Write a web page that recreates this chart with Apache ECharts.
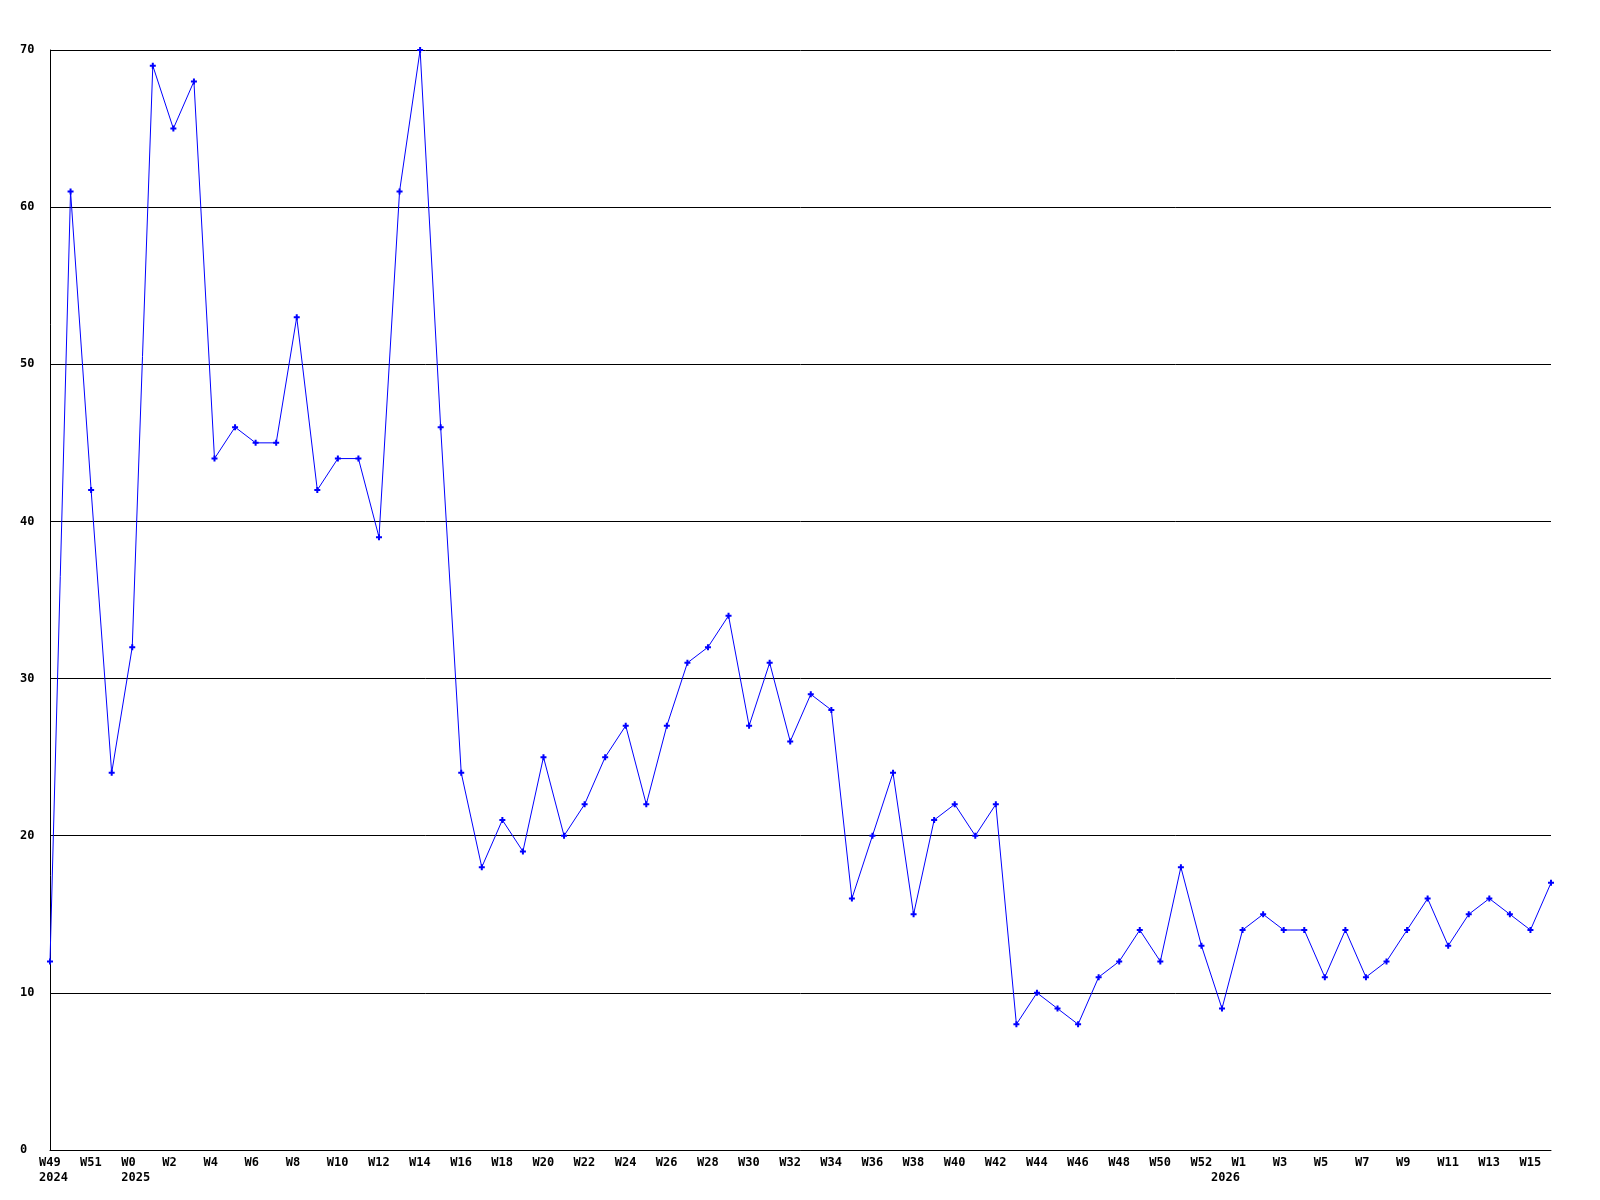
<!DOCTYPE html>
<html>
<head>
<meta charset="utf-8">
<script src="https://cdn.jsdelivr.net/npm/echarts@6/dist/echarts.min.js"></script>
<style>html,body{margin:0;padding:0;background:#fff}#c{width:1600px;height:1200px}</style>
</head>
<body>
<div id="c"></div>
<script>
const weeks = ['W49','W50','W51','W52',
  'W0','W1','W2','W3','W4','W5','W6','W7','W8','W9','W10','W11','W12','W13','W14','W15','W16','W17','W18','W19','W20',
  'W21','W22','W23','W24','W25','W26','W27','W28','W29','W30','W31','W32','W33','W34','W35','W36','W37','W38','W39','W40',
  'W41','W42','W43','W44','W45','W46','W47','W48','W49','W50','W51','W52',
  'W0','W1','W2','W3','W4','W5','W6','W7','W8','W9','W10','W11','W12','W13','W14','W15','W16'];
const yearTicks = [[0,'2024'],[4,'2025'],[57,'2026']];
const values = [12,61,42,24,
  32,69,65,68,44,46,45,45,53,42,44,44,39,61,70,46,24,18,21,19,25,
  20,22,25,27,22,27,31,32,34,27,31,26,29,28,16,20,24,15,21,22,
  20,22,8,10,9,8,11,12,14,12,18,13,
  9,14,15,14,14,11,14,11,12,14,16,13,15,16,15,14,17];
const yTicks = [0,10,20,30,40,50,60,70];

const FONT = 'DejaVu Sans Mono';
const chart = echarts.init(document.getElementById('c'));
chart.setOption({
  animation: false,
  backgroundColor: '#fff',
  grid: {left: 50, right: 49, top: 50, bottom: 50, containLabel: false},
  xAxis: {
    type: 'category',
    data: weeks,
    boundaryGap: false,
    axisLine: {show: true, lineStyle: {color: '#000', width: 1}},
    axisTick: {show: false},
    splitLine: {show: false},
    axisLabel: {
      interval: 0,
      margin: 5,
      formatter: function (v, i) {
        const yt = yearTicks.find(function (t) { return t[0] === i; });
        const w = (i % 2 === 0) ? v : ' ';
        if (!yt && i % 2 !== 0) return '';
        return '{w|' + w + '}\n{w|' + (yt ? yt[1] : ' ') + '}';
      },
      rich: {
        w: {width: 22, align: 'left', fontFamily: FONT, fontWeight: 'bold', fontSize: 12, lineHeight: 15, color: '#000'}
      }
    }
  },
  yAxis: {
    type: 'value',
    min: yTicks[0],
    max: yTicks[yTicks.length - 1],
    interval: 10,
    axisLine: {show: true, lineStyle: {color: '#000', width: 1}},
    axisTick: {show: false},
    splitLine: {show: true, lineStyle: {color: '#000', width: 1}},
    axisLabel: {
      align: 'left',
      margin: 30,
      padding: [3, 0, 0, 0],
      fontFamily: FONT,
      fontWeight: 'bold',
      fontSize: 12,
      color: '#000'
    }
  },
  series: [{
    type: 'line',
    data: values,
    symbol: 'path://M2,0H4V2H6V4H4V6H2V4H0V2H2Z',
    symbolSize: 6,
    showAllSymbol: true,
    lineStyle: {color: '#0000ff', width: 1},
    itemStyle: {color: '#0000ff'},
    z: 3
  }]
});
</script>
</body>
</html>
